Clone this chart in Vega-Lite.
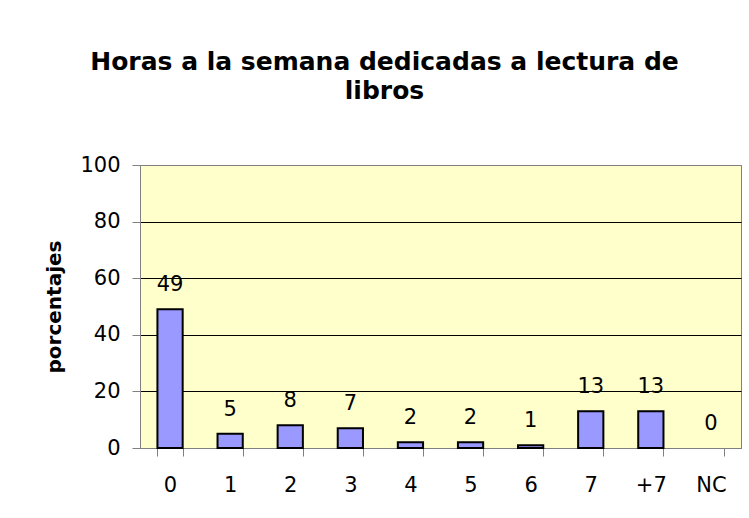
{
  "$schema": "https://vega.github.io/schema/vega-lite/v6.json",
  "width": 601,
  "height": 283,
  "autosize": {"type": "none"},
  "padding": {"left": 140, "top": 165, "right": 8, "bottom": 70},
  "background": "white",
  "title": {
    "text": ["Horas a la semana dedicadas a lectura de", "libros"],
    "font": "DejaVu Sans",
    "fontSize": 25,
    "fontWeight": "bold",
    "lineHeight": 29,
    "color": "black",
    "anchor": "middle",
    "dx": -56,
    "offset": 50
  },
  "data": {
    "values": [
      {"horas": "0", "pct": 49},
      {"horas": "1", "pct": 5},
      {"horas": "2", "pct": 8},
      {"horas": "3", "pct": 7},
      {"horas": "4", "pct": 2},
      {"horas": "5", "pct": 2},
      {"horas": "6", "pct": 1},
      {"horas": "7", "pct": 13},
      {"horas": "+7", "pct": 13},
      {"horas": "NC", "pct": 0}
    ]
  },
  "encoding": {
    "x": {
      "field": "horas",
      "type": "nominal",
      "sort": null,
      "scale": {"paddingInner": 0.58, "paddingOuter": 0.29},
      "axis": {
        "title": null,
        "labelAngle": 0,
        "labelFont": "DejaVu Sans",
        "labelFontSize": 21,
        "labelColor": "black",
        "labelPadding": 18,
        "tickBand": "extent",
        "tickSize": 8,
        "tickColor": "#808080",
        "domainColor": "#808080",
        "grid": false
      }
    },
    "y": {
      "field": "pct",
      "type": "quantitative",
      "scale": {"domain": [0, 100]},
      "axis": {
        "title": "porcentajes",
        "titleFont": "DejaVu Sans",
        "titleFontSize": 20,
        "titleFontWeight": "bold",
        "titleColor": "black",
        "titlePadding": 15,
        "values": [0, 20, 40, 60, 80, 100],
        "labelFont": "DejaVu Sans",
        "labelFontSize": 21,
        "labelColor": "black",
        "labelPadding": 12,
        "tickSize": 8,
        "tickColor": "#808080",
        "domainColor": "#808080",
        "grid": true,
        "gridColor": {"condition": {"test": "datum.value === 100 || datum.value === 0", "value": "#808080"}, "value": "black"},
        "gridOpacity": 1,
        "gridWidth": 1
      }
    }
  },
  "layer": [
    {
      "mark": {"type": "bar", "color": "#9999FF", "stroke": "black", "strokeWidth": 2},
      "encoding": {
        "strokeOpacity": {"condition": {"test": "datum.pct === 0", "value": 0}, "value": 1}
      }
    },
    {
      "mark": {
        "type": "text",
        "font": "DejaVu Sans",
        "fontSize": 21,
        "color": "black",
        "baseline": "alphabetic",
        "dy": -18
      },
      "encoding": {"text": {"field": "pct", "type": "quantitative"}}
    }
  ],
  "config": {
    "view": {"fill": "#FFFFCC", "stroke": "#808080", "strokeWidth": 1}
  }
}
